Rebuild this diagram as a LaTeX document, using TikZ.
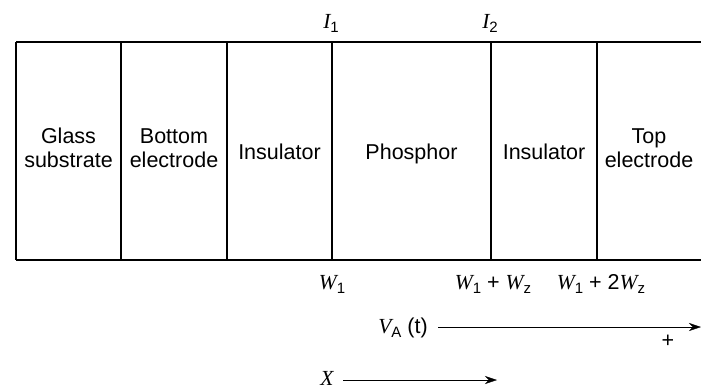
\documentclass[tikz,border=0pt]{standalone}
\usepackage{fontspec}
\setmainfont{Liberation Sans}
\newfontfamily\varfont{Liberation Serif}
\usetikzlibrary{arrows.meta}
\newcommand{\lvar}[1]{{\varfont\itshape #1}}
\newcommand{\lsub}[1]{\raisebox{-4pt}{\fontsize{15}{15}\selectfont #1}}
\begin{document}
\begin{tikzpicture}[x=1pt, y=-1pt, >={Stealth[length=12pt,width=8pt]},
  font=\fontsize{21.5}{24}\selectfont]
  \useasboundingbox (0,0) rectangle (701,389);
  % layer boundaries
  \coordinate (L0) at (16,42);
  \coordinate (L1) at (121,42);
  \coordinate (L2) at (227,42);
  \coordinate (L3) at (332,42);
  \coordinate (L4) at (491,42);
  \coordinate (L5) at (597,42);
  \coordinate (L6) at (701,42);
  \draw[line width=2.5pt] (L0) -- (L6);
  \draw[line width=2.5pt] (16,260) -- (701,260);
  \foreach \c in {L0,L1,L2,L3,L4,L5}
    \draw[line width=2.5pt] (\c) -- (\c |- 0,260);
  % layer names
  \node[align=center, anchor=base] (glass) at (68.5,167) {Glass\\substrate};
  \node[align=center, anchor=base] (bottom) at (174,167) {Bottom\\electrode};
  \node[anchor=base] (ins1) at (279.5,159) {Insulator};
  \node[anchor=base] (phos) at (411.5,159) {Phosphor};
  \node[anchor=base] (ins2) at (544,159) {Insulator};
  \node[align=center, anchor=base] (top) at (649,167) {Top\\electrode};
  % interfaces
  \node[anchor=base] (i1) at (331,28) {\lvar{I}\lsub{1}};
  \node[anchor=base] (i2) at (490,28) {\lvar{I}\lsub{2}};
  \node[anchor=base] (w1) at (332,289) {\lvar{W}\lsub{1}};
  \node[anchor=base] (w2) at (493,289) {\lvar{W}\lsub{1} + \lvar{W}\lsub{z}};
  \node[anchor=base] (w3) at (601,289) {\lvar{W}\lsub{1} + 2\lvar{W}\lsub{z}};
  % applied voltage and position axis
  \node[anchor=base] (va) at (403,333) {\lvar{V}\lsub{A} (t)};
  \coordinate (vaend) at (701,327);
  \draw[->] (438,327) -- (vaend);
  \node[anchor=base] (plus) at (668,347) {+};
  \node[anchor=base, inner sep=1pt] (x) at (327,385) {\lvar{X}};
  \coordinate (xend) at (497,380);
  \draw[->] (343,380) -- (xend);
\end{tikzpicture}
\end{document}
